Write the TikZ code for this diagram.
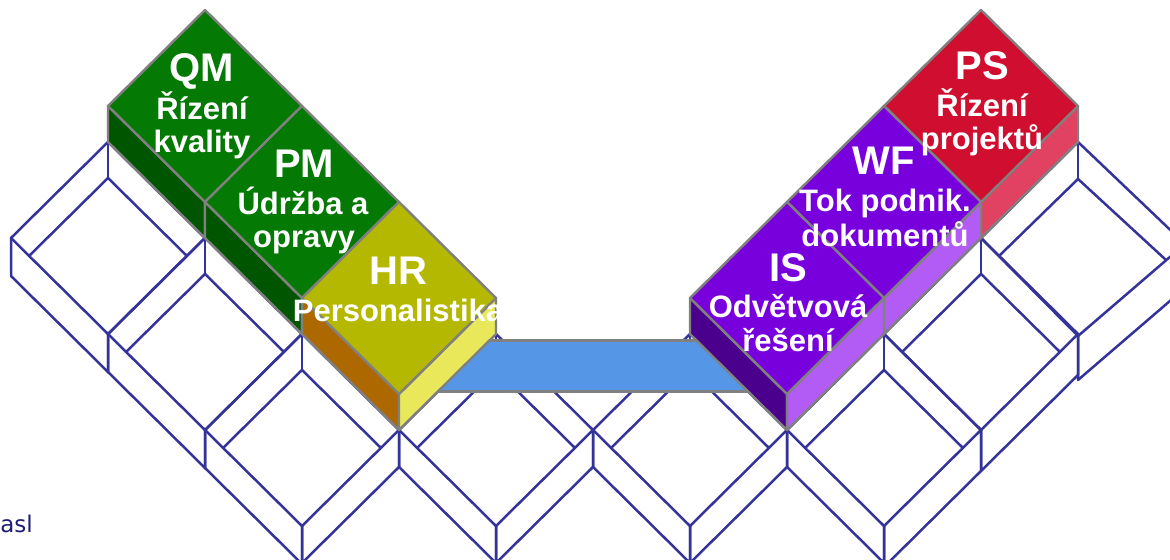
\documentclass[tikz,border=0pt]{standalone}
\usepackage{fontspec}
\setmainfont{Liberation Sans}
\newfontfamily\aslfont{DejaVu Sans}
\definecolor{wirecol}{HTML}{333399}
\definecolor{edgegray}{HTML}{808080}
\definecolor{grnTop}{HTML}{047A04}
\definecolor{grnSide}{HTML}{005500}
\definecolor{olvTop}{HTML}{B4B800}
\definecolor{olvLeft}{HTML}{AD6800}
\definecolor{olvRight}{HTML}{E8E85A}
\definecolor{barBlue}{HTML}{5597E6}
\definecolor{purTop}{HTML}{7700DD}
\definecolor{purLeft}{HTML}{4A008C}
\definecolor{purRight}{HTML}{B35CF5}
\definecolor{redTop}{HTML}{D00F30}
\definecolor{redRight}{HTML}{E24262}
\definecolor{aslcol}{HTML}{1C1C78}

\newcommand\cellXY[2]{\pgfmathsetmacro\cellX{205+97*((#1)-(#2))}\pgfmathsetmacro\cellY{142+96*((#1)+(#2))}}
\newcommand\crateCell[2]{\cellXY{#1}{#2}%
  \draw[wireline] (\cellX,\cellY-96) -- (\cellX+97,\cellY) -- (\cellX,\cellY+96) -- (\cellX-97,\cellY) -- cycle;
  \draw[wireline] (\cellX,\cellY-96) -- (\cellX,\cellY-60);
  \draw[wireline] (\cellX-79,\cellY+18) -- (\cellX,\cellY-60) -- (\cellX+79,\cellY+18);}
\newcommand\extLB[3]{\cellXY{#1}{#2}%
  \draw[wireline] (\cellX-97,\cellY) -- (\cellX-97,\cellY+#3) -- (\cellX,\cellY+96+#3) -- (\cellX,\cellY+96);}
\newcommand\extRB[3]{\cellXY{#1}{#2}%
  \draw[wireline] (\cellX+97,\cellY) -- (\cellX+97,\cellY+#3) -- (\cellX,\cellY+96+#3) -- (\cellX,\cellY+96);}
\newcommand\blockCell[5]{\cellXY{#1}{#2}%
  \filldraw[face,fill=#4] (\cellX-97,\cellY-36) -- (\cellX,\cellY+60) -- (\cellX,\cellY+96) -- (\cellX-97,\cellY) -- cycle;
  \filldraw[face,fill=#5] (\cellX+97,\cellY-36) -- (\cellX,\cellY+60) -- (\cellX,\cellY+96) -- (\cellX+97,\cellY) -- cycle;
  \filldraw[face,fill=#3] (\cellX,\cellY-132) -- (\cellX+97,\cellY-36) -- (\cellX,\cellY+60) -- (\cellX-97,\cellY-36) -- cycle;}

\begin{document}
\begin{tikzpicture}[x=0.5pt,y=-0.5pt,
  wireline/.style={draw=wirecol,line width=1.25pt,line join=round},
  face/.style={draw=edgegray,line width=1.2pt,line join=round},
  ttl/.style={text=white,font=\fontsize{20}{22}\selectfont\bfseries,inner sep=0pt,anchor=base},
  sub/.style={text=white,font=\fontsize{15.5}{17}\selectfont\bfseries,inner sep=0pt,anchor=base}]
\useasboundingbox (0,0) rectangle (1170,560);
\fill[white] (0,0) rectangle (1170,560);

% egg-crate wireframe
\crateCell{0}{1}
\crateCell{1}{1}
\crateCell{2}{1}
\crateCell{3}{0}
\crateCell{4}{-1}
\crateCell{5}{-2}
\crateCell{5}{-3}
% right-most cell (slightly distorted in the original)
\draw[wireline] (1078,142) -- (1185,244) -- (1078,336) -- (981,238) -- cycle;
\draw[wireline] (1078,142) -- (1078,179);
\draw[wireline] (999,256) -- (1078,179) -- (1166,260);
\draw[wireline] (1078,336) -- (1078,380) -- (1185,288);

% exterior walls
\extLB{0}{1}{38}
\extLB{1}{1}{38}
\extLB{2}{1}{38}
\extLB{3}{0}{37}
\extLB{4}{-1}{37}
\extLB{5}{-2}{37}
\extRB{2}{1}{37}
\extRB{3}{0}{37}
\extRB{4}{-1}{37}
\extRB{5}{-2}{41}
\extRB{5}{-3}{41}

% blue bridge
\filldraw[face,fill=barBlue] (430,340.5) rectangle (760,391.5);

% coloured blocks
\blockCell{0}{0}{grnTop}{grnSide}{grnSide}
\blockCell{1}{0}{grnTop}{grnSide}{grnSide}
\blockCell{2}{0}{olvTop}{olvLeft}{olvRight}
\blockCell{4}{-4}{redTop}{redRight}{redRight}
\blockCell{4}{-3}{purTop}{purLeft}{purRight}
\blockCell{4}{-2}{purTop}{purLeft}{purRight}

% labels
\node[ttl] (qmT) at (202,82) {QM};
\node[sub] (qmA) at (202,120) {Řízení};
\node[sub] (qmB) at (202,153) {kvality};
\node[ttl] (pmT) at (304,178) {PM};
\node[sub] (pmA) at (303,215) {Údržba a};
\node[sub] (pmB) at (304,248) {opravy};
\node[ttl] (hrT) at (398,285) {HR};
\node[sub] (hrA) at (398,322) {Personalistika};
\node[ttl] (psT) at (982,80) {PS};
\node[sub] (psA) at (982,117) {Řízení};
\node[sub] (psB) at (982,150) {projektů};
\node[ttl] (wfT) at (884,175) {WF};
\node[sub] (wfA) at (885,212) {Tok podnik.};
\node[sub] (wfB) at (885,247) {dokumentů};
\node[ttl] (isT) at (788,282) {IS};
\node[sub] (isA) at (788,318) {Odvětvová};
\node[sub] (isB) at (788,352) {řešení};

\node[font=\aslfont\fontsize{11.5}{14}\selectfont,text=aslcol,anchor=base west,inner sep=0pt] (aslT) at (0,532) {asl};
\end{tikzpicture}
\end{document}
